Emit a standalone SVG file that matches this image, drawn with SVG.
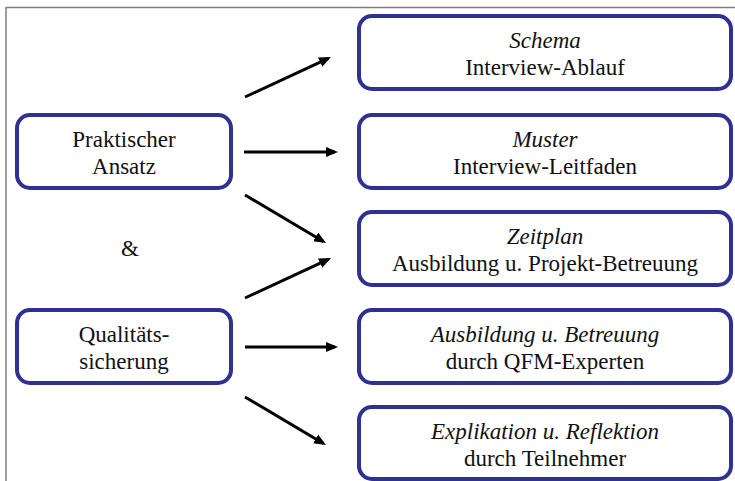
<svg xmlns="http://www.w3.org/2000/svg" width="735" height="481" viewBox="0 0 735 481">
<style>
.box{fill:#fff;stroke:#2e3192;stroke-width:4}
.c{stroke:#000;stroke-width:3;fill:none}
</style>
<defs>
<marker id="ah" markerUnits="userSpaceOnUse" markerWidth="14" markerHeight="12" refX="9" refY="5" orient="auto">
<path d="M0,0 L12,5 L0,10 z" fill="#000"/>
</marker>
</defs>
<rect width="735" height="481" fill="#fff"/>
<path d="M6,481 V7.5 H735" fill="none" stroke="#808080" stroke-width="1.5"/>
<g id="praktischer">
<rect class="box" x="17" y="115" width="214" height="73" rx="13"/>
<text x="124" y="147" font-family="Times New Roman, Tinos, Liberation Serif, serif" style="font-family:Times New Roman, Tinos, Liberation Serif, serif" font-size="23" fill="#111" text-anchor="middle">Praktischer</text>
<text x="124" y="174" font-family="Times New Roman, Tinos, Liberation Serif, serif" style="font-family:Times New Roman, Tinos, Liberation Serif, serif" font-size="23" fill="#111" text-anchor="middle">Ansatz</text>
</g>
<g id="und">
<text x="130" y="256" font-family="Times New Roman, Tinos, Liberation Serif, serif" style="font-family:Times New Roman, Tinos, Liberation Serif, serif" font-size="23" fill="#111" text-anchor="middle">&amp;</text>
</g>
<g id="qualitaet">
<rect class="box" x="17" y="310" width="214" height="73" rx="13"/>
<text x="124" y="342" font-family="Times New Roman, Tinos, Liberation Serif, serif" style="font-family:Times New Roman, Tinos, Liberation Serif, serif" font-size="23" fill="#111" text-anchor="middle">Qualitäts-</text>
<text x="124" y="369" font-family="Times New Roman, Tinos, Liberation Serif, serif" style="font-family:Times New Roman, Tinos, Liberation Serif, serif" font-size="23" fill="#111" text-anchor="middle">sicherung</text>
</g>
<g id="schema">
<rect class="box" x="359" y="16" width="372" height="73" rx="13"/>
<text x="545" y="48" font-family="Times New Roman, Tinos, Liberation Serif, serif" style="font-family:Times New Roman, Tinos, Liberation Serif, serif" font-size="23" font-style="italic" fill="#111" text-anchor="middle">Schema</text>
<text x="545" y="75" font-family="Times New Roman, Tinos, Liberation Serif, serif" style="font-family:Times New Roman, Tinos, Liberation Serif, serif" font-size="23" fill="#111" text-anchor="middle">Interview-Ablauf</text>
</g>
<g id="muster">
<rect class="box" x="359" y="115" width="372" height="73" rx="13"/>
<text x="545" y="147" font-family="Times New Roman, Tinos, Liberation Serif, serif" style="font-family:Times New Roman, Tinos, Liberation Serif, serif" font-size="23" font-style="italic" fill="#111" text-anchor="middle">Muster</text>
<text x="545" y="174" font-family="Times New Roman, Tinos, Liberation Serif, serif" style="font-family:Times New Roman, Tinos, Liberation Serif, serif" font-size="23" fill="#111" text-anchor="middle">Interview-Leitfaden</text>
</g>
<g id="zeitplan">
<rect class="box" x="359" y="212" width="372" height="73" rx="13"/>
<text x="545" y="244" font-family="Times New Roman, Tinos, Liberation Serif, serif" style="font-family:Times New Roman, Tinos, Liberation Serif, serif" font-size="23" font-style="italic" fill="#111" text-anchor="middle">Zeitplan</text>
<text x="545" y="271" font-family="Times New Roman, Tinos, Liberation Serif, serif" style="font-family:Times New Roman, Tinos, Liberation Serif, serif" font-size="23" fill="#111" text-anchor="middle">Ausbildung u. Projekt-Betreuung</text>
</g>
<g id="ausbildung">
<rect class="box" x="359" y="310" width="372" height="73" rx="13"/>
<text x="545" y="342" font-family="Times New Roman, Tinos, Liberation Serif, serif" style="font-family:Times New Roman, Tinos, Liberation Serif, serif" font-size="23" font-style="italic" fill="#111" text-anchor="middle">Ausbildung u. Betreuung</text>
<text x="545" y="369" font-family="Times New Roman, Tinos, Liberation Serif, serif" style="font-family:Times New Roman, Tinos, Liberation Serif, serif" font-size="23" fill="#111" text-anchor="middle">durch QFM-Experten</text>
</g>
<g id="explikation">
<rect class="box" x="359" y="407" width="372" height="72" rx="13"/>
<text x="545" y="439" font-family="Times New Roman, Tinos, Liberation Serif, serif" style="font-family:Times New Roman, Tinos, Liberation Serif, serif" font-size="23" font-style="italic" fill="#111" text-anchor="middle">Explikation u. Reflektion</text>
<text x="545" y="466" font-family="Times New Roman, Tinos, Liberation Serif, serif" style="font-family:Times New Roman, Tinos, Liberation Serif, serif" font-size="23" fill="#111" text-anchor="middle">durch Teilnehmer</text>
</g>
<g id="connectors">
<line class="c" marker-end="url(#ah)" x1="245" y1="97" x2="328.3" y2="58.3"/>
<line class="c" marker-end="url(#ah)" x1="244" y1="152" x2="335" y2="152"/>
<line class="c" marker-end="url(#ah)" x1="245" y1="195" x2="323.4" y2="241.5"/>
<line class="c" marker-end="url(#ah)" x1="245" y1="298" x2="328.3" y2="259.3"/>
<line class="c" marker-end="url(#ah)" x1="245" y1="347" x2="335" y2="347"/>
<line class="c" marker-end="url(#ah)" x1="245" y1="397" x2="323.4" y2="443.5"/>
</g>
</svg>
